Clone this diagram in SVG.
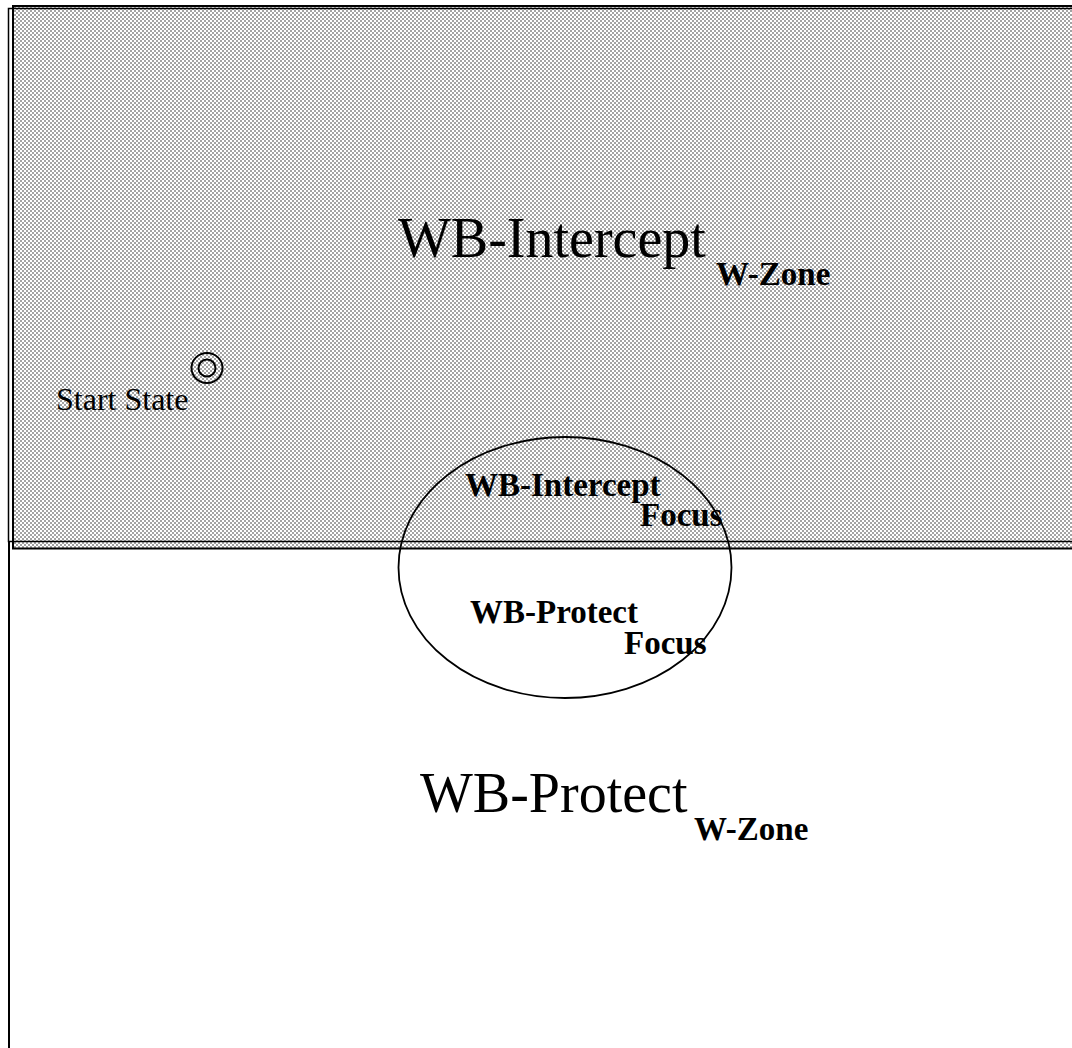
<svg xmlns="http://www.w3.org/2000/svg" width="1072" height="1048" viewBox="0 0 1072 1048">
<defs>
<pattern id="chk" x="0" y="0" width="4" height="4" patternUnits="userSpaceOnUse">
<rect width="4" height="4" fill="#ffffff"/>
<rect x="0" y="0" width="2" height="2" fill="#a3a3a3"/>
<rect x="2" y="2" width="2" height="2" fill="#a3a3a3"/>
</pattern>
</defs>
<style>
.big{font-family:"Liberation Serif","Times New Roman",serif;font-size:56px;fill:#000}
.sub{font-family:"Liberation Serif","Times New Roman",serif;font-size:33px;font-weight:bold;fill:#000}
.lbl{font-family:"Liberation Serif","Times New Roman",serif;font-size:32px;fill:#000}
.edge{fill:none;stroke:#000}
</style>
<rect width="1072" height="1048" fill="#ffffff"/>
<g id="wb-intercept-zone">
<rect x="13" y="6" width="1100" height="542.5" fill="url(#chk)"/>
<rect x="8.5" y="8.5" width="1100" height="533" class="edge" stroke-width="1.5"/>
<rect x="13" y="6" width="1100" height="542.5" class="edge" stroke-width="2"/>
<text class="big" x="398" y="257">WB-Intercept</text>
<text class="sub" x="716" y="285">W-Zone</text>
</g>
<g id="wb-protect-zone">
<line x1="9" y1="541" x2="9" y2="1048" class="edge" stroke-width="2" stroke="#222"/>
<text class="big" x="420" y="812">WB-Protect</text>
<text class="sub" x="694" y="840">W-Zone</text>
</g>
<g id="start-state">
<ellipse cx="207" cy="368" rx="15.5" ry="15" class="edge" stroke-width="2"/>
<ellipse cx="207" cy="368" rx="8.5" ry="8.5" class="edge" stroke-width="2"/>
<text class="lbl" x="56" y="410">Start State</text>
</g>
<g id="focus">
<ellipse cx="565" cy="567.5" rx="166.5" ry="130.5" class="edge" stroke-width="1.8"/>
<text class="sub" x="465" y="496">WB-Intercept</text>
<text class="sub" x="640" y="526">Focus</text>
<text class="sub" x="470" y="623">WB-Protect</text>
<text class="sub" x="624" y="654">Focus</text>
</g>
<g id="connectors"></g>
</svg>
